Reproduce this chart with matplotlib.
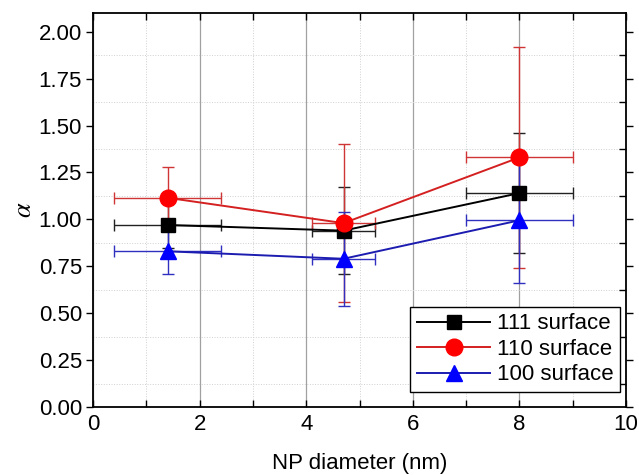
import numpy as np
import matplotlib
matplotlib.use("Agg")
import matplotlib.pyplot as plt
from matplotlib.ticker import MultipleLocator, FormatStrFormatter

plt.rcParams['font.family'] = ['Liberation Sans', 'DejaVu Sans']
plt.rcParams['mathtext.fontset'] = 'stix'

# NP diameter (nm) and horizontal uncertainty
diam = [1.4, 4.7, 8.0]
diam_err = [1.0, 0.6, 1.0]

# alpha for each surface, with vertical error
a111 = [0.97, 0.94, 1.14]
a111_err = [0.12, 0.23, 0.32]
a110 = [1.115, 0.98, 1.33]
a110_err = [0.165, 0.42, 0.59]
a100 = [0.83, 0.79, 0.995]
a100_err = [0.12, 0.25, 0.335]

labels = ["111 surface", "110 surface", "100 surface"]

if __name__ == "__main__":

    fig = plt.figure(figsize=(6.39, 4.75), dpi=100)
    ax = fig.add_axes([93/639, 1-407/475, (626-93)/639, (407-13)/475])

    # grid: solid gray at major x, dotted at minor x and minor y
    ax.set_axisbelow(True)
    ax.xaxis.set_major_locator(MultipleLocator(2))
    ax.xaxis.set_minor_locator(MultipleLocator(1))
    ax.yaxis.set_major_locator(MultipleLocator(0.25))
    ax.yaxis.set_minor_locator(MultipleLocator(0.125))
    ax.grid(axis='x', which='major', color='#a0a0a0', lw=0.9, ls='-')
    ax.grid(axis='x', which='minor', color='#d0d0d0', lw=0.7, ls=':')
    ax.grid(axis='y', which='minor', color='#d0d0d0', lw=0.7, ls=':')

    series = [
        (a111, a111_err, 'black', 'black', '#222222', 's', 10, labels[0]),
        (a110, a110_err, '#d42020', '#ff0000', '#d03535', 'o', 12, labels[1]),
        (a100, a100_err, '#1c1cb0', '#0000ff', '#3030c0', '^', 12, labels[2]),
    ]
    handles = []
    for y, yerr, lc, mc, ec, mk, ms, lab in series:
        ax.errorbar(diam, y, xerr=diam_err, yerr=yerr, fmt='none',
                    ecolor=ec, elinewidth=1.0, capsize=4, capthick=1.0, zorder=3)
        h, = ax.plot(diam, y, color=lc, lw=1.4, marker=mk, ms=ms,
                     mfc=mc, mec=mc, label=lab, zorder=4)
        handles.append(h)

    ax.set_xlim(0, 10)
    ax.set_ylim(0, 2.1)
    ax.yaxis.set_major_formatter(FormatStrFormatter('%.2f'))

    ax.tick_params(axis='x', which='both', direction='in', top=True,
                   length=5, width=1.0, labelsize=16, pad=5)
    ax.tick_params(axis='y', which='both', direction='in', right=True,
                   length=5, width=1.0, labelsize=16)
    ax.tick_params(axis='y', which='major', left=True, direction='out', pad=3)
    ax.tick_params(axis='y', which='minor', left=False)
    for sp in ax.spines.values():
        sp.set_linewidth(1.3)

    ax.set_xlabel("NP diameter (nm)", fontsize=16, labelpad=13)
    ax.set_ylabel(r"$\alpha$", fontsize=19, labelpad=2)

    leg = ax.legend(handles=handles, loc='lower right', fontsize=16,
                    frameon=True, fancybox=False, framealpha=1.0,
                    edgecolor='black', handlelength=3.3, handletextpad=0.3,
                    borderpad=0.3, labelspacing=0.2, borderaxespad=0,
                    bbox_to_anchor=(0.989, 0.038))
    leg.get_frame().set_linewidth(1.0)

    fig.savefig("out.png", dpi=100)
